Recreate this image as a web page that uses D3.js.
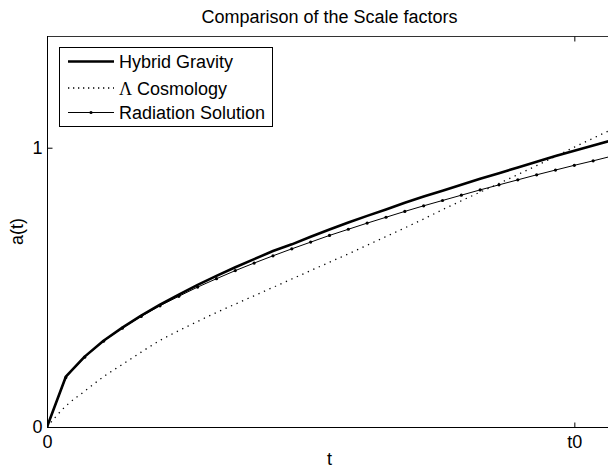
<!DOCTYPE html>
<html>
<head>
<meta charset="utf-8">
<script src="https://cdn.jsdelivr.net/npm/d3@7/dist/d3.min.js"></script>
<style>
  html, body { margin: 0; padding: 0; background: #fff; }
  svg { display: block; font-family: "Liberation Sans", Arial, Helvetica, sans-serif; }
</style>
</head>
<body>
<svg id="chart" width="608" height="469"></svg>
<script>
// ---- data ----
const steps = [0,1,2,3,4,5,6,7,8,9,10,11,12,13,14,15,16,17,18,19,20,21,22,23,24,25,26,27,28,29,30];
const hybridGravity = [0,0.180,0.252,0.309,0.356,0.399,0.438,0.474,0.509,0.541,0.572,0.601,0.630,0.654,0.681,0.707,0.732,0.756,0.779,0.803,0.825,0.846,0.867,0.889,0.909,0.929,0.950,0.970,0.989,1.008,1.027];
const lambdaCosmology = [0,0.075,0.128,0.180,0.224,0.268,0.310,0.345,0.378,0.410,0.440,0.470,0.500,0.530,0.560,0.590,0.620,0.651,0.682,0.713,0.745,0.778,0.810,0.841,0.872,0.904,0.936,0.969,1.002,1.034,1.066];
const radiationSolution = [0,0.177,0.250,0.307,0.354,0.396,0.434,0.468,0.501,0.531,0.560,0.587,0.613,0.638,0.662,0.686,0.708,0.730,0.751,0.772,0.792,0.811,0.830,0.849,0.867,0.885,0.903,0.920,0.937,0.953,0.970];
const xTickValues = [0, 28];
const xTickLabels = ["0", "t0"];
const yTickValues = [0, 1];
const yTickLabels = ["0", "1"];
const seriesNames = ["Hybrid Gravity", "Cosmology", "Radiation Solution"];
const titleText = "Comparison of the Scale factors";

// ---- layout ----
const svg = d3.select("#chart");
const L = 47, R = 612, T = 36, B = 427;
const x = d3.scaleLinear().domain([0, 30]).range([L, R]);
const y = d3.scaleLinear().domain([0, 1.4]).range([B, T]);

svg.append("defs").append("clipPath").attr("id", "clip")
  .append("rect").attr("x", L).attr("y", T).attr("width", R - L).attr("height", B - T);

const plot = svg.append("g").attr("clip-path", "url(#clip)");

const line = (vals) => d3.line()
  .x((d, i) => x(steps[i]))
  .y(d => y(d))(vals);

// Lambda cosmology (dotted)
plot.append("path")
  .attr("d", d3.line().x((d, i) => x(steps[i])).y(d => y(d)).curve(d3.curveMonotoneX)(lambdaCosmology))
  .attr("fill", "none").attr("stroke", "#000").attr("stroke-width", 1.3)
  .attr("stroke-dasharray", "1.3,4.7");

// Radiation solution (thin with dots)
plot.append("path").attr("d", line(radiationSolution))
  .attr("fill", "none").attr("stroke", "#000").attr("stroke-width", 1);
plot.selectAll("circle.rad").data(radiationSolution).enter().append("circle")
  .attr("class", "rad")
  .attr("cx", (d, i) => x(steps[i])).attr("cy", d => y(d)).attr("r", 1.6).attr("fill", "#000");

// Hybrid gravity (thick)
plot.append("path").attr("d", line(hybridGravity))
  .attr("fill", "none").attr("stroke", "#000").attr("stroke-width", 2.6)
  .attr("stroke-linejoin", "round");

// ---- axes box ----
const box = svg.append("g").attr("stroke", "#000").attr("stroke-width", 1).attr("fill", "none");
box.append("line").attr("x1", L).attr("x2", R + 5).attr("y1", T + 0.5).attr("y2", T + 0.5).attr("stroke", "#333");
box.append("line").attr("x1", L).attr("x2", R + 5).attr("y1", B + 0.5).attr("y2", B + 0.5);
box.append("line").attr("x1", L + 0.5).attr("x2", L + 0.5).attr("y1", T).attr("y2", B + 1);

// x axis ticks (inside) via d3 axis
const xAxisB = d3.axisBottom(x).tickValues(xTickValues).tickSize(-5).tickPadding(8)
  .tickFormat((d, i) => xTickLabels[i]);
const gx = svg.append("g").attr("transform", `translate(0,${B + 0.5})`).call(xAxisB);
gx.select(".domain").remove();
gx.selectAll("text").attr("font-size", 18).attr("fill", "#000")
  .attr("font-family", "Liberation Sans, Arial, sans-serif");
gx.selectAll("line").filter(d => d === 0).remove();

const xAxisT = d3.axisTop(x).tickValues(xTickValues).tickSize(-5).tickFormat("");
const gxt = svg.append("g").attr("transform", `translate(0,${T + 0.5})`).call(xAxisT);
gxt.select(".domain").remove();
gxt.selectAll("line").filter(d => d === 0).remove();

const yAxis = d3.axisLeft(y).tickValues(yTickValues).tickSize(-5).tickPadding(5)
  .tickFormat((d, i) => yTickLabels[i]);
const gy = svg.append("g").attr("transform", `translate(${L + 0.5},0)`).call(yAxis);
gy.select(".domain").remove();
gy.selectAll("text").attr("font-size", 18).attr("fill", "#000")
  .attr("font-family", "Liberation Sans, Arial, sans-serif");
gy.selectAll("line").filter(d => d === 0).remove();

// ---- labels ----
svg.append("text").attr("x", (L + R) / 2).attr("y", 23).attr("text-anchor", "middle")
  .attr("font-size", 18).text(titleText);
svg.append("text").attr("x", (L + R) / 2).attr("y", 465).attr("text-anchor", "middle")
  .attr("font-size", 18).text("t");
svg.append("text").attr("transform", `translate(23,${(T + B) / 2}) rotate(-90)`)
  .attr("text-anchor", "middle").attr("font-size", 18).text("a(t)");

// ---- legend ----
const lg = svg.append("g");
lg.append("rect").attr("x", 59.5).attr("y", 47.5).attr("width", 213).attr("height", 79)
  .attr("fill", "#fff").attr("stroke", "#000").attr("stroke-width", 1);
const rows = [61.5, 88, 112.5];
lg.append("line").attr("x1", 68).attr("x2", 114).attr("y1", rows[0]).attr("y2", rows[0])
  .attr("stroke", "#000").attr("stroke-width", 2.6);
lg.append("line").attr("x1", 68).attr("x2", 114).attr("y1", rows[1]).attr("y2", rows[1])
  .attr("stroke", "#000").attr("stroke-width", 1.3).attr("stroke-dasharray", "1.3,3.7");
lg.append("line").attr("x1", 68).attr("x2", 114).attr("y1", rows[2]).attr("y2", rows[2])
  .attr("stroke", "#000").attr("stroke-width", 1);
lg.append("circle").attr("cx", 91).attr("cy", rows[2]).attr("r", 1.6).attr("fill", "#000");

lg.append("text").attr("x", 119).attr("y", rows[0] + 6.5).attr("font-size", 18).text(seriesNames[0]);
const t2 = lg.append("text").attr("x", 119).attr("y", rows[1] + 6.5).attr("font-size", 18);
t2.append("tspan").attr("font-family", "Liberation Serif, Times New Roman, serif").text("Λ");
t2.append("tspan").text(" " + seriesNames[1]);
lg.append("text").attr("x", 119).attr("y", rows[2] + 6.5).attr("font-size", 18).text(seriesNames[2]);
</script>
</body>
</html>
